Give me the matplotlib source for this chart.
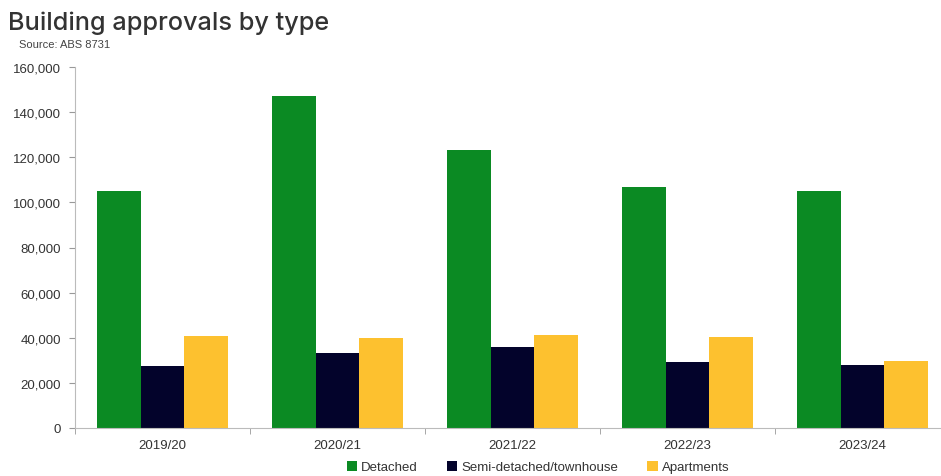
import numpy as np
import matplotlib.pyplot as plt
from matplotlib.ticker import FuncFormatter

years = ["2019/20", "2020/21", "2021/22", "2022/23", "2023/24"]
detached = [105000, 147000, 123000, 107000, 105000]
semi = [27500, 33200, 35900, 29300, 27900]
apartments = [40800, 39900, 41000, 40300, 29700]

series = [("Detached", detached, "#0b8a23"),
          ("Semi-detached/townhouse", semi, "#03032b"),
          ("Apartments", apartments, "#fdc12f")]

fig = plt.figure(figsize=(9.41, 4.77), dpi=100)
ax = fig.add_axes([75 / 941, 1 - 429 / 477, 875 / 941, 361 / 477])

x = np.arange(len(years))
w = 0.25
for i, (name, vals, col) in enumerate(series):
    ax.bar(x + (i - 1) * w, vals, w, color=col, label=name)

ax.set_xlim(-0.5, len(years) - 0.5)
ax.set_ylim(0, 160000)
ax.set_yticks(np.arange(0, 160001, 20000))
ax.yaxis.set_major_formatter(FuncFormatter(lambda v, p: f"{int(v):,}"))
ax.set_xticks(x)
ax.set_xticklabels(years)
ax.set_xticks(np.arange(-0.5, len(years)), minor=True)
ax.tick_params(axis="x", which="major", length=0, pad=8)
ax.tick_params(axis="x", which="minor", length=4, color="#999999")
ax.tick_params(axis="y", length=4, color="#999999", pad=6)
for lab in ax.get_xticklabels() + ax.get_yticklabels():
    lab.set_fontfamily("Liberation Sans")
    lab.set_fontsize(9.5)
    lab.set_color("#333333")

for s in ["top", "right"]:
    ax.spines[s].set_visible(False)
for s in ["left", "bottom"]:
    ax.spines[s].set_color("#bbbbbb")

fig.text(0.009, 0.952, "Building approvals by type", fontsize=18.2,
         family="Inter", weight="medium", color="#333333", va="center")
fig.text(0.02, 0.905, "Source: ABS 8731", fontsize=8,
         family="Liberation Sans", color="#444444", va="center")

leg = fig.legend(loc="center", bbox_to_anchor=(538 / 941, 1 - 468 / 477),
                 ncol=3, frameon=False, handlelength=0.8, handleheight=0.8,
                 handletextpad=0.3, columnspacing=2.2,
                 prop={"family": "Liberation Sans", "size": 9.5})
for t in leg.get_texts():
    t.set_color("#333333")

fig.savefig("out.png", dpi=100)
